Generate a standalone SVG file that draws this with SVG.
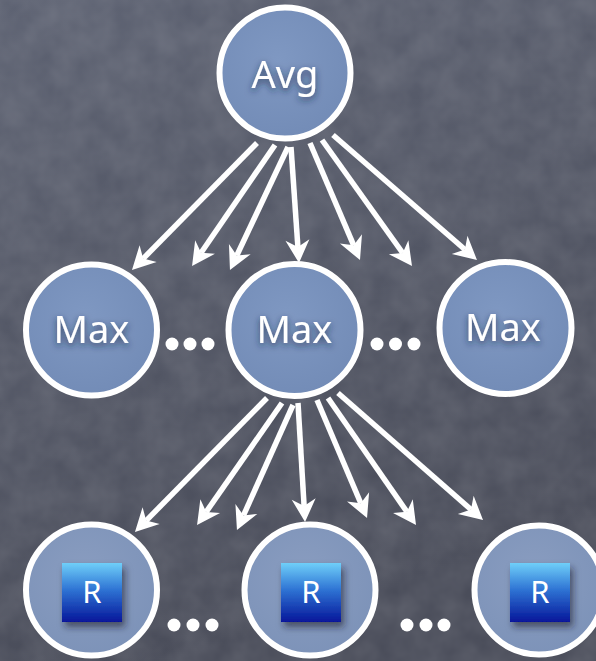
<svg xmlns="http://www.w3.org/2000/svg" width="596" height="661" viewBox="0 0 596 661">
  <defs>
    <linearGradient id="bg" x1="0" y1="0" x2="0.3" y2="1">
      <stop offset="0" stop-color="#5d6272"/>
      <stop offset="1" stop-color="#494c59"/>
    </linearGradient>
    <filter id="chalk" x="0" y="0" width="100%" height="100%">
      <feTurbulence type="fractalNoise" baseFrequency="0.035" numOctaves="3" seed="4" result="n"/>
      <feColorMatrix in="n" type="matrix" values="0 0 0 0 1  0 0 0 0 1  0 0 0 0 1  0 0 0 0.14 -0.02"/>
    </filter>
    <radialGradient id="disc" cx="0.45" cy="0.4" r="0.65">
      <stop offset="0" stop-color="#7f98c2"/>
      <stop offset="1" stop-color="#728bb6"/>
    </radialGradient>
    <radialGradient id="discLight" cx="0.45" cy="0.4" r="0.65">
      <stop offset="0" stop-color="#8a9dc0"/>
      <stop offset="1" stop-color="#7c92b8"/>
    </radialGradient>
    <linearGradient id="rbox" x1="0" y1="0" x2="0" y2="1">
      <stop offset="0" stop-color="#6fcff9"/>
      <stop offset="0.45" stop-color="#2f74d4"/>
      <stop offset="1" stop-color="#06169a"/>
    </linearGradient>
    <filter id="textShade" x="-30%" y="-40%" width="160%" height="180%">
      <feDropShadow dx="0" dy="3" stdDeviation="3.5" flood-color="#1e2a45" flood-opacity="0.75"/>
    </filter>
    <filter id="boxShade" x="-30%" y="-30%" width="160%" height="160%">
      <feDropShadow dx="3" dy="5" stdDeviation="3.5" flood-color="#1a1f2e" flood-opacity="0.6"/>
    </filter>
    <marker id="head" viewBox="-8 -13 26 26" refX="0" refY="0" markerWidth="26" markerHeight="26" markerUnits="userSpaceOnUse" orient="auto">
      <path d="M16,0 L-7,-12 L0,0 L-7,12 Z" fill="#ffffff"/>
    </marker>
    <style>
      .ring { stroke: #ffffff; stroke-width: 6; }
      .label { font-family: "Noto Sans", "DejaVu Sans", sans-serif; font-size: 38px; fill: #ffffff; text-anchor: middle; }
      .rl { font-family: "Noto Sans", "DejaVu Sans", sans-serif; font-size: 31px; fill: #ffffff; text-anchor: middle; }
      .dot { fill: #ffffff; }
      .arrow { stroke: #ffffff; stroke-width: 5.5; fill: none; marker-end: url(#head); }
    </style>
  </defs>

  <!-- chalkboard background -->
  <rect width="596" height="661" fill="url(#bg)"/>
  <rect width="596" height="661" filter="url(#chalk)"/>

  <!-- connectors -->
  <g id="connectors">
    <path class="arrow" d="M257,143 L143.2,258.6"/>
    <path class="arrow" d="M275,145 L201.1,252.8"/>
    <path class="arrow" d="M288,147 L236.8,255.5"/>
    <path class="arrow" d="M291,147 L297.9,247.0"/>
    <path class="arrow" d="M310,143 L353.7,245.3"/>
    <path class="arrow" d="M322,140 L402.7,253.0"/>
    <path class="arrow" d="M333,135 L464.9,249.5"/>

    <path class="arrow" d="M267,398 L146.2,520.6"/>
    <path class="arrow" d="M282,403 L206.2,511.9"/>
    <path class="arrow" d="M293,405 L243.5,515.4"/>
    <path class="arrow" d="M298,403 L304.1,506.0"/>
    <path class="arrow" d="M317,400 L360.8,503.3"/>
    <path class="arrow" d="M328,398 L406.9,511.8"/>
    <path class="arrow" d="M338,393 L471.0,509.5"/>
  </g>

  <!-- root -->
  <g id="avg">
    <circle class="ring" cx="285" cy="73" r="65.5" fill="url(#disc)"/>
    <text class="label" x="285" y="88" font-size="40" filter="url(#textShade)">Avg</text>
  </g>

  <!-- middle layer -->
  <g id="max-left">
    <circle class="ring" cx="91.5" cy="330" r="65.5" fill="url(#disc)"/>
    <text class="label" x="91.5" y="343" filter="url(#textShade)">Max</text>
  </g>
  <g id="max-mid">
    <circle class="ring" cx="294.5" cy="330" r="66" fill="url(#disc)"/>
    <text class="label" x="294.5" y="343" filter="url(#textShade)">Max</text>
  </g>
  <g id="max-right">
    <circle class="ring" cx="505.5" cy="328" r="66" fill="url(#disc)"/>
    <text class="label" x="503" y="341" filter="url(#textShade)">Max</text>
  </g>

  <g id="dots-mid-left">
    <circle class="dot" cx="172" cy="344" r="6.5"/>
    <circle class="dot" cx="190" cy="344" r="6.5"/>
    <circle class="dot" cx="208" cy="344" r="6.5"/>
  </g>
  <g id="dots-mid-right">
    <circle class="dot" cx="377" cy="344" r="6.5"/>
    <circle class="dot" cx="395.5" cy="344" r="6.5"/>
    <circle class="dot" cx="414" cy="344" r="6.5"/>
  </g>

  <!-- leaf layer -->
  <g id="r-left">
    <circle class="ring" cx="91.5" cy="590" r="65.5" fill="url(#discLight)"/>
    <rect x="62" y="563" width="60" height="59" fill="url(#rbox)" filter="url(#boxShade)"/>
    <text class="rl" x="92" y="603">R</text>
  </g>
  <g id="r-mid">
    <circle class="ring" cx="310" cy="590" r="65.5" fill="url(#discLight)"/>
    <rect x="281" y="563" width="60" height="59" fill="url(#rbox)" filter="url(#boxShade)"/>
    <text class="rl" x="311" y="603">R</text>
  </g>
  <g id="r-right">
    <circle class="ring" cx="539" cy="590" r="64.5" fill="url(#discLight)"/>
    <rect x="510" y="563" width="60" height="59" fill="url(#rbox)" filter="url(#boxShade)"/>
    <text class="rl" x="540" y="603">R</text>
  </g>

  <g id="dots-bottom-left">
    <circle class="dot" cx="174" cy="625" r="6.5"/>
    <circle class="dot" cx="193" cy="625" r="6.5"/>
    <circle class="dot" cx="212" cy="625" r="6.5"/>
  </g>
  <g id="dots-bottom-right">
    <circle class="dot" cx="407" cy="625" r="6.5"/>
    <circle class="dot" cx="426" cy="625" r="6.5"/>
    <circle class="dot" cx="444" cy="625" r="6.5"/>
  </g>
</svg>
